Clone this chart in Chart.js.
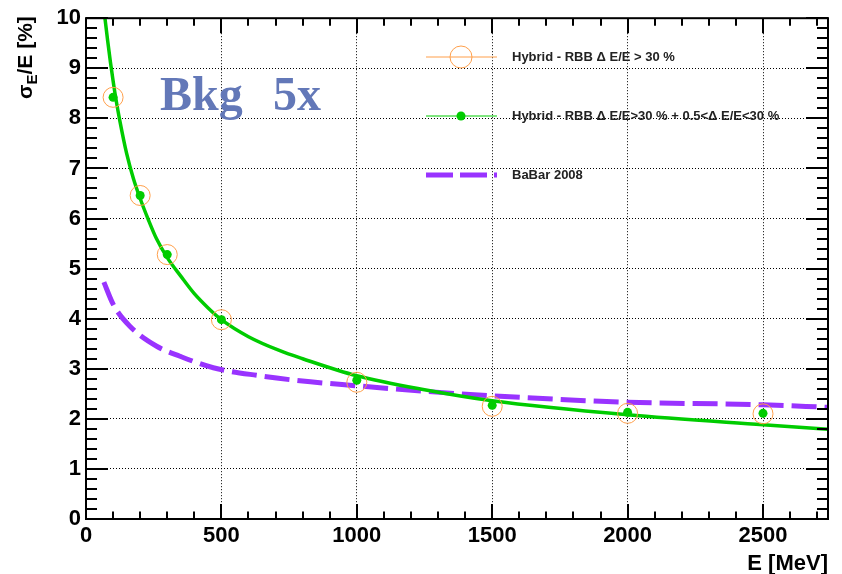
<!DOCTYPE html>
<html>
<head>
<meta charset="utf-8">
<title>Energy resolution vs E</title>
<script src="https://cdn.jsdelivr.net/npm/chart.js@4.4.1/dist/chart.umd.min.js"></script>
<style>
  html, body { margin: 0; padding: 0; background: #fff; }
  #wrap { width: 842px; height: 574px; }
</style>
</head>
<body>
<div id="wrap"><canvas id="res" width="842" height="574"></canvas></div>
<script>
// beam energies of the simulated points (MeV)
const ENERGIES = [100, 200, 300, 500, 1000, 1500, 2000, 2500];
// sigma_E/E (%) for the two hybrid selections
const HYBRID_30   = [8.42, 6.46, 5.28, 3.98, 2.73, 2.25, 2.11, 2.10];
const HYBRID_COMB = [8.42, 6.46, 5.28, 3.98, 2.77, 2.27, 2.13, 2.11];

// fitted resolution curve
const FIT_E     = [70, 80, 90, 100, 110, 125, 150, 175, 200, 230, 260, 300, 350, 400, 450, 500, 600, 716, 800, 1000, 1250, 1500, 2000, 2500, 2740];
const FIT_SIGMA = [10.0, 9.55, 9.13, 8.75, 8.4, 7.95, 7.3, 6.8, 6.4, 5.98, 5.6, 5.22, 4.85, 4.5, 4.22, 3.98, 3.64, 3.36, 3.2, 2.86, 2.58, 2.36, 2.08, 1.88, 1.79];

// BaBar 2008 reference curve
const BABAR_E     = [66, 101, 162, 261, 347, 470, 642, 790, 1000, 1250, 1500, 1900, 2000, 2500, 2740];
const BABAR_SIGMA = [4.73, 4.28, 3.85, 3.45, 3.25, 3.02, 2.86, 2.76, 2.66, 2.55, 2.46, 2.35, 2.33, 2.28, 2.23];

const X_TICKS = [0, 500, 1000, 1500, 2000, 2500];
const Y_TICKS = [0, 1, 2, 3, 4, 5, 6, 7, 8, 9, 10];
const X_MAX = 2740;
const Y_MAX = 10;
const X_MINOR = 100;
const Y_MINOR = 0.2;

const LEGEND_LABELS = [
  "Hybrid - RBB \u0394 E/E > 30 %",
  "Hybrid - RBB \u0394 E/E>30 % + 0.5<\u0394 E/E<30 %",
  "BaBar 2008",
];

const ORANGE = "#ff9f4a";
const GREEN  = "#00cc00";
const VIOLET = "#9933ff";
const FONT   = '"Liberation Sans", Arial, Helvetica, sans-serif';

const pts = (xs, ys) => xs.map((x, i) => ({ x, y: ys[i] }));

// frame with inward ticks on all sides, axis titles, legend and label
const rootFrame = {
  id: "rootFrame",
  afterDatasetsDraw(chart) {
    const { ctx, chartArea: a, scales: { x, y } } = chart;
    ctx.save();
    ctx.strokeStyle = "#000";
    ctx.lineWidth = 2;
    ctx.strokeRect(a.left, a.top, a.right - a.left, a.bottom - a.top);

    ctx.beginPath();
    for (let i = 0; i * X_MINOR <= X_MAX; i++) {
      const px = Math.round(x.getPixelForValue(i * X_MINOR));
      const len = i % 5 === 0 ? 15 : 7.5;
      ctx.moveTo(px, a.bottom); ctx.lineTo(px, a.bottom - len);
      ctx.moveTo(px, a.top);    ctx.lineTo(px, a.top + len);
    }
    for (let i = 0; i * Y_MINOR <= Y_MAX + 1e-9; i++) {
      const py = Math.round(y.getPixelForValue(i * Y_MINOR));
      const len = i % 5 === 0 ? 22 : 11;
      ctx.moveTo(a.left, py);  ctx.lineTo(a.left + len, py);
      ctx.moveTo(a.right, py); ctx.lineTo(a.right - len, py);
    }
    ctx.stroke();

    // x title
    ctx.fillStyle = "#000";
    ctx.font = "bold 22px " + FONT;
    ctx.textAlign = "right";
    ctx.textBaseline = "middle";
    ctx.fillText("E [MeV]", a.right, 564);

    // y title: sigma_E/E [%], rotated
    ctx.save();
    ctx.translate(32, a.top - 2);
    ctx.rotate(-Math.PI / 2);
    ctx.textAlign = "left";
    ctx.textBaseline = "alphabetic";
    const big = "bold 21px " + FONT, small = "bold 15px " + FONT;
    ctx.font = big;   const w1 = ctx.measureText("\u03c3").width;
    ctx.font = small; const w2 = ctx.measureText("E").width;
    ctx.font = big;   const w3 = ctx.measureText("/E [%]").width;
    let cx = -(w1 + w2 + w3);
    ctx.font = big;   ctx.fillText("\u03c3", cx, 0); cx += w1;
    ctx.font = small; ctx.fillText("E", cx, 5);       cx += w2;
    ctx.font = big;   ctx.fillText("/E [%]", cx, 0);
    ctx.restore();

    // legend
    const lx0 = 426, lx1 = 497, lmid = 461, tx = 512;
    const rows = [57, 116, 175];
    ctx.lineWidth = 1;
    ctx.strokeStyle = ORANGE;
    ctx.beginPath(); ctx.moveTo(lx0, rows[0]); ctx.lineTo(lx1, rows[0]); ctx.stroke();
    ctx.beginPath(); ctx.arc(lmid, rows[0], 11, 0, Math.PI * 2); ctx.stroke();

    ctx.strokeStyle = GREEN;
    ctx.beginPath(); ctx.moveTo(lx0, rows[1]); ctx.lineTo(lx1, rows[1]); ctx.stroke();
    ctx.fillStyle = GREEN;
    ctx.beginPath(); ctx.arc(lmid, rows[1], 4.5, 0, Math.PI * 2); ctx.fill();

    ctx.strokeStyle = VIOLET;
    ctx.lineWidth = 5;
    ctx.setLineDash([27, 7]);
    ctx.beginPath(); ctx.moveTo(lx0, rows[2]); ctx.lineTo(lx1, rows[2]); ctx.stroke();
    ctx.setLineDash([]);

    ctx.fillStyle = "#222";
    ctx.font = "bold 13px " + FONT;
    ctx.textAlign = "left";
    ctx.textBaseline = "middle";
    LEGEND_LABELS.forEach((t, i) => ctx.fillText(t, tx, rows[i]));

    // background scaling label
    ctx.fillStyle = "#6378b8";
    ctx.font = 'bold 48px "Liberation Serif", "Times New Roman", serif';
    ctx.textBaseline = "alphabetic";
    ctx.fillText("Bkg", 160, 110);
    ctx.fillText("5x", 273, 110);
    ctx.restore();
  },
};

const tickFont = { family: FONT, size: 22, weight: "bold" };

new Chart(document.getElementById("res"), {
  type: "scatter",
  data: {
    datasets: [
      {
        label: LEGEND_LABELS[1],
        data: pts(ENERGIES, HYBRID_COMB),
        pointStyle: "circle",
        pointRadius: 4.5,
        backgroundColor: GREEN,
        borderWidth: 0,
        order: 0,
      },
      {
        label: LEGEND_LABELS[0],
        data: pts(ENERGIES, HYBRID_30),
        pointStyle: "circle",
        pointRadius: 10,
        backgroundColor: "rgba(0,0,0,0)",
        borderColor: ORANGE,
        borderWidth: 1,
        order: 1,
      },
      {
        label: "fit",
        data: pts(FIT_E, FIT_SIGMA),
        showLine: true,
        borderColor: GREEN,
        borderWidth: 3.5,
        pointRadius: 0,
        cubicInterpolationMode: "monotone",
        order: 2,
      },
      {
        label: LEGEND_LABELS[2],
        data: pts(BABAR_E, BABAR_SIGMA),
        showLine: true,
        borderColor: VIOLET,
        borderWidth: 5,
        borderDash: [25, 8],
        pointRadius: 0,
        cubicInterpolationMode: "monotone",
        order: 3,
      },
    ],
  },
  options: {
    responsive: false,
    animation: false,
    layout: { padding: { left: 0, top: 15, right: 14, bottom: 0 } },
    plugins: { legend: { display: false }, tooltip: { enabled: false } },
    scales: {
      x: {
        type: "linear",
        min: 0,
        max: X_MAX,
        afterBuildTicks: (s) => { s.ticks = X_TICKS.map((v) => ({ value: v })); },
        afterFit: (s) => { s.height = 55; },
        ticks: { font: tickFont, color: "#000", padding: 4, maxRotation: 0, callback: (v) => String(v) },
        grid: {
          drawTicks: false,
          lineWidth: 1,
          color: (c) => (c.tick && c.tick.value > 0 && c.tick.value < X_MAX ? "#000" : "rgba(0,0,0,0)"),
        },
        border: { display: false, dash: [1, 2] },
      },
      y: {
        type: "linear",
        min: 0,
        max: Y_MAX,
        afterBuildTicks: (s) => { s.ticks = Y_TICKS.map((v) => ({ value: v })); },
        afterFit: (s) => { s.width = 86; },
        ticks: { font: tickFont, color: "#000", padding: 5, callback: (v) => String(v) },
        grid: {
          drawTicks: false,
          lineWidth: 1,
          color: (c) => (c.tick && c.tick.value > 0 && c.tick.value < Y_MAX ? "#000" : "rgba(0,0,0,0)"),
        },
        border: { display: false, dash: [1, 2] },
      },
    },
  },
  plugins: [rootFrame],
});
</script>
</body>
</html>
